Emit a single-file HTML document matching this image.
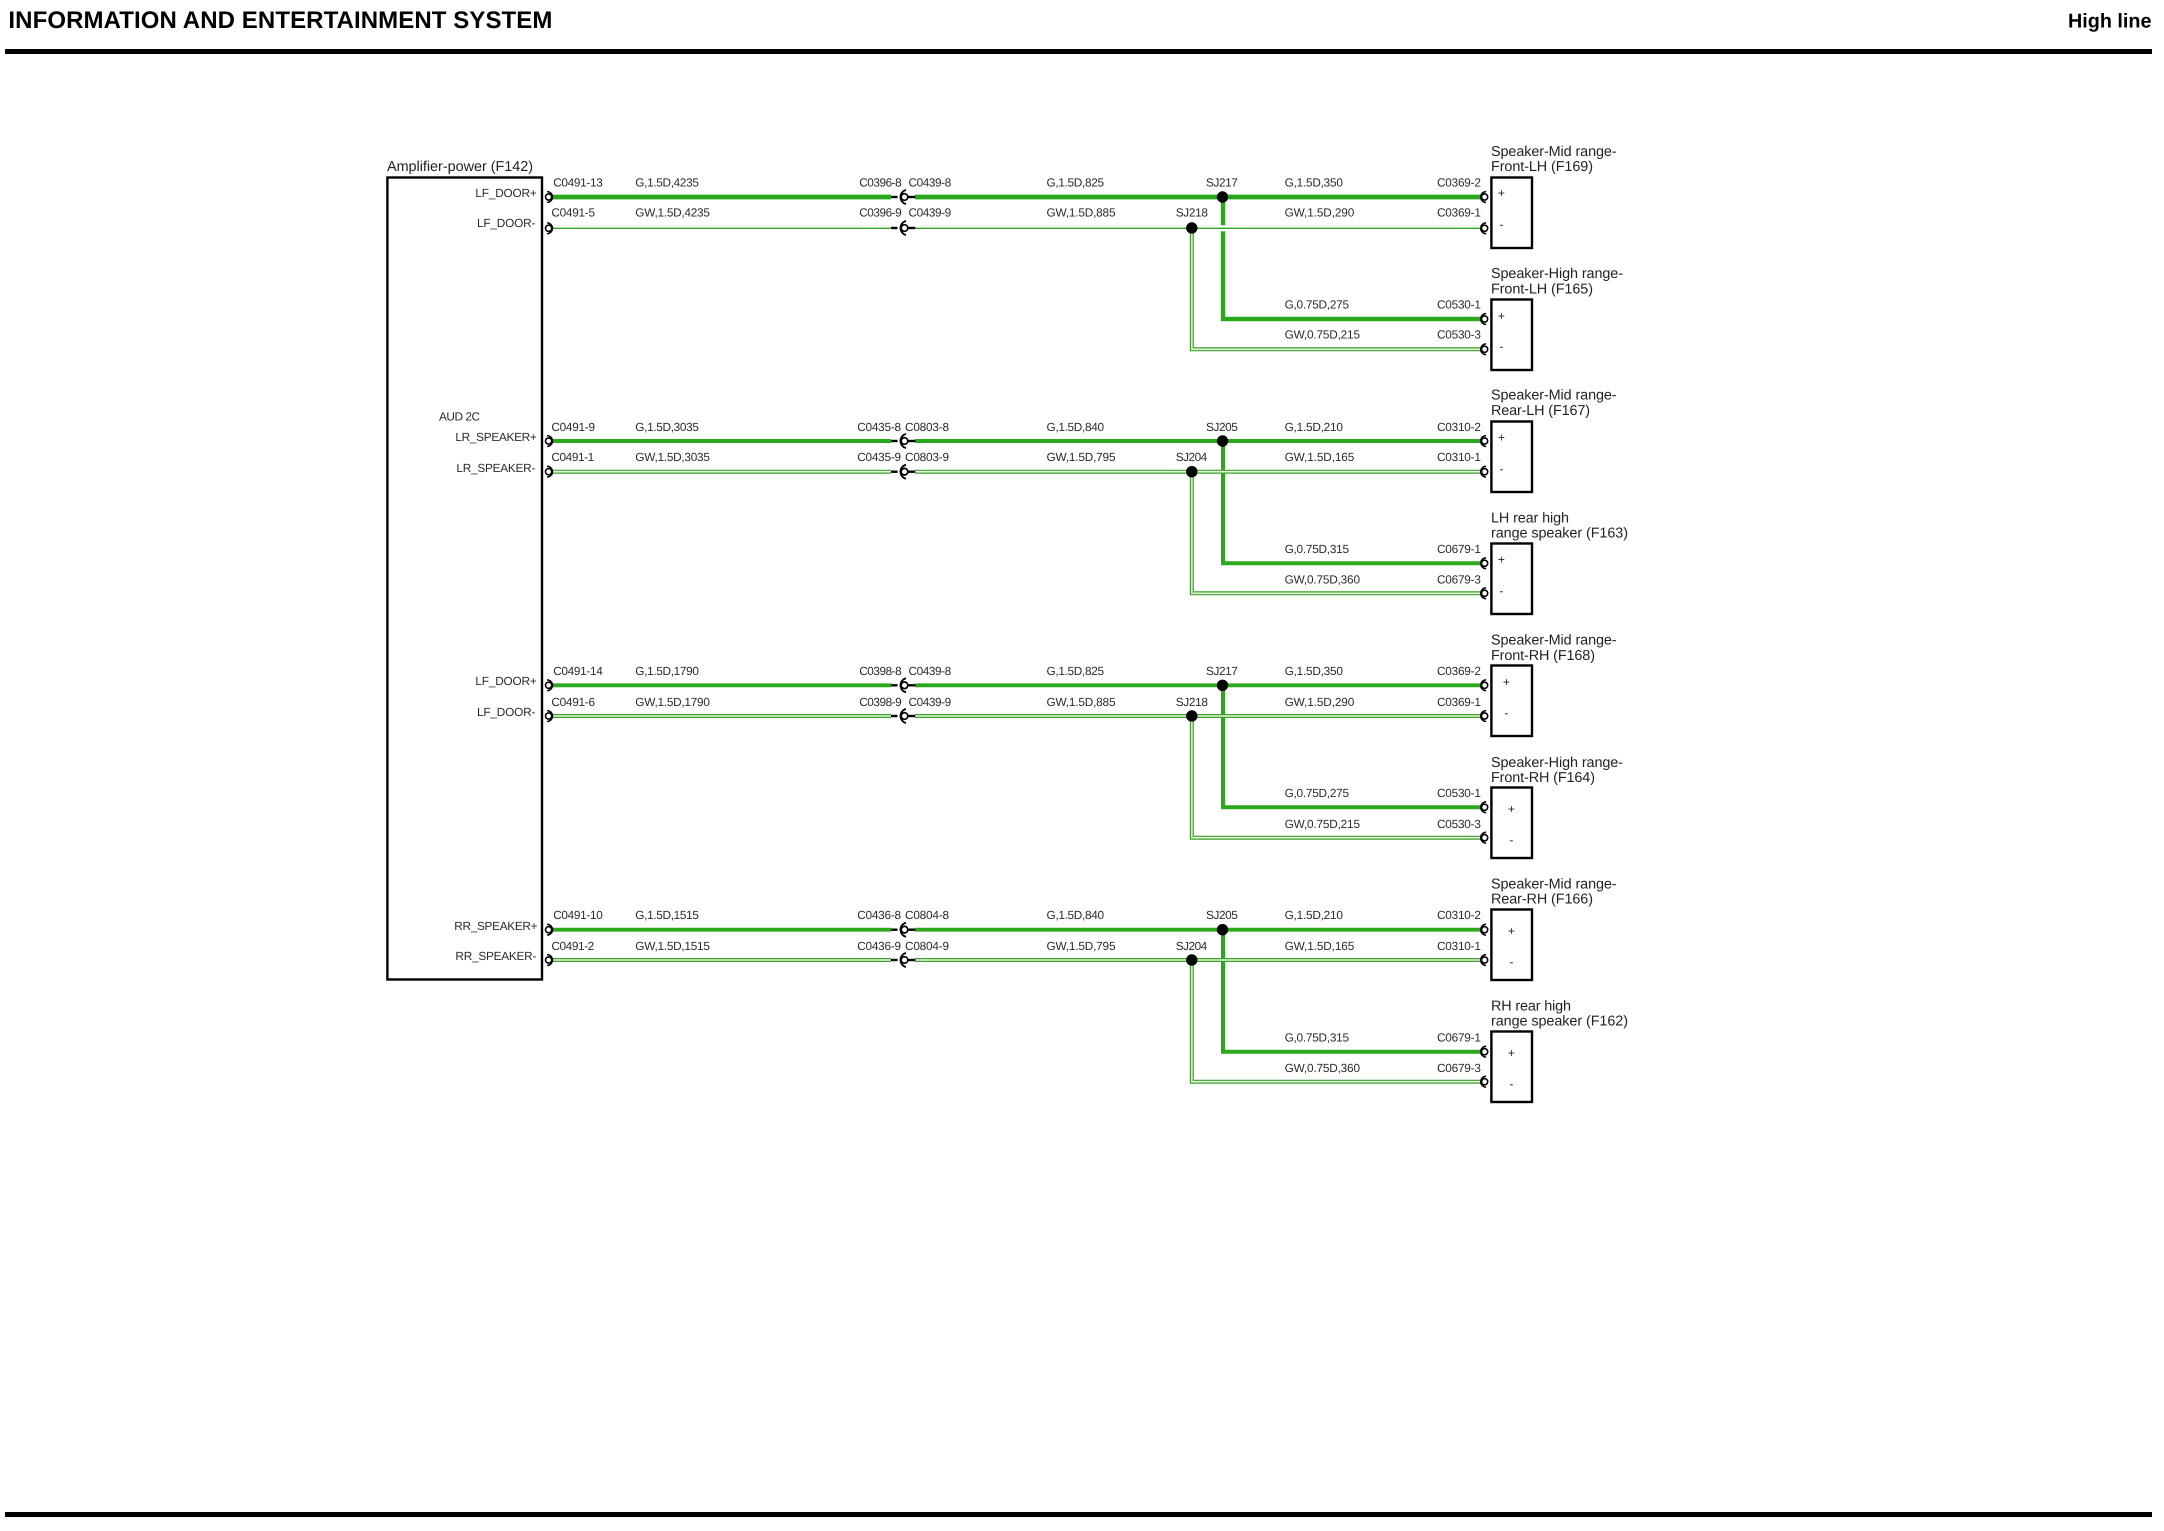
<!DOCTYPE html>
<html>
<head>
<meta charset="utf-8">
<title>Information and Entertainment System</title>
<style>
html,body{margin:0;padding:0;background:#fff;}
svg{display:block;}
text{font-family:"Liberation Sans",Arial,sans-serif;font-size:11.8px;fill:#2a2a2a;text-rendering:geometricPrecision;}
.h{font-weight:bold;fill:#000;font-size:24px;}
.h2{font-weight:bold;fill:#000;font-size:20px;}
.t{font-size:14.4px;fill:#222;}
.p{font-size:12px;fill:#222;}
.w{fill:none;stroke:#2ca81c;stroke-linejoin:miter;}
.do{fill:none;stroke:#3c9f2c;stroke-width:4;}
.di{fill:none;stroke:#e6f8da;stroke-width:1.6;}
.b{fill:#fff;stroke:#000;stroke-width:2.4;}
</style>
</head>
<body>
<svg xmlns="http://www.w3.org/2000/svg" width="2164" height="1531" viewBox="0 0 2164 1531">
<defs>
<g id="er"><path d="M1.5,-5.4 A5.4,5.4 0 0 0 1.5,5.4" fill="none" stroke="#000" stroke-width="1.5"/><circle r="3.1" fill="#fff" stroke="#000" stroke-width="1.6"/></g>
<g id="el"><path d="M-1.5,-5.4 A5.4,5.4 0 0 1 -1.5,5.4" fill="none" stroke="#000" stroke-width="1.5"/><circle r="3.1" fill="#fff" stroke="#000" stroke-width="1.6"/></g>
<g id="in"><line x1="-13.5" x2="-7" y1="0" y2="0" stroke="#000" stroke-width="2.4"/><line x1="3" x2="10.8" y1="0" y2="0" stroke="#000" stroke-width="2.4"/><path d="M1.5,-7 A7.2,7.2 0 0 0 1.5,7" fill="none" stroke="#000" stroke-width="1.8"/><circle r="3.3" fill="#fff" stroke="#000" stroke-width="1.7"/></g>
</defs>
<rect width="2164" height="1531" fill="#fff"/>

<text class="h" x="8.4" y="28" textLength="544" lengthAdjust="spacing">INFORMATION AND ENTERTAINMENT SYSTEM</text>
<text class="h2" x="2068" y="27.7" textLength="83.5" lengthAdjust="spacingAndGlyphs">High line</text>
<rect x="5" y="49" width="2147" height="5" fill="#000"/>
<rect x="5" y="1512" width="2147" height="5" fill="#000"/>

<!-- Amplifier -->
<text class="t" x="387" y="171" textLength="146">Amplifier-power (F142)</text>
<rect class="b" x="387.4" y="177.5" width="154.6" height="802"/>
<text x="475.4" y="197.2" textLength="61.4">LF_DOOR+</text>
<text x="477" y="227.2" textLength="58.4">LF_DOOR-</text>
<text x="439" y="420.7" textLength="41">AUD 2C</text>
<text x="455.4" y="441" textLength="81.4">LR_SPEAKER+</text>
<text x="456.4" y="472" textLength="79">LR_SPEAKER-</text>
<text x="475.4" y="685" textLength="61.4">LF_DOOR+</text>
<text x="477" y="716" textLength="58.4">LF_DOOR-</text>
<text x="454.3" y="930" textLength="83.2">RR_SPEAKER+</text>
<text x="455.4" y="960" textLength="81">RR_SPEAKER-</text>

<!-- Group 1 wires -->
<path class="w" stroke-width="4.4" d="M1223,197 V319 H1484"/>
<rect x="1219" y="225.3" width="8" height="6" fill="#fff"/>
<path class="w" stroke-width="4.8" d="M552,197 H891 M915,197 H1484"/>
<path class="w" stroke-width="1.4" d="M552,228.3 H891 M915,228.3 H1484"/>
<path class="do" d="M1191.8,228 V349.3 H1484"/><path class="di" d="M1191.8,228 V349.3 H1484"/>

<!-- Group 2 wires -->
<path class="w" stroke-width="4" d="M1223,441 V563.3 H1484"/>
<path class="w" stroke-width="4" d="M552,441 H891 M915,441 H1484"/>
<path class="do" d="M552,471.7 H891 M915,471.7 H1484"/><path class="di" d="M552,471.7 H891 M915,471.7 H1484"/>
<path class="do" d="M1191.8,471.7 V593.3 H1484"/><path class="di" d="M1191.8,471.7 V593.3 H1484"/>

<!-- Group 3 wires -->
<path class="w" stroke-width="4" d="M1223,685.3 V807.3 H1484"/>
<path class="w" stroke-width="3.8" d="M552,685.3 H891 M915,685.3 H1484"/>
<path class="do" d="M552,716 H891 M915,716 H1484"/><path class="di" d="M552,716 H891 M915,716 H1484"/>
<path class="do" d="M1191.8,716 V837.7 H1484"/><path class="di" d="M1191.8,716 V837.7 H1484"/>

<!-- Group 4 wires -->
<path class="w" stroke-width="4" d="M1223,929.7 V1051.7 H1484"/>
<path class="w" stroke-width="3.8" d="M552,929.7 H891 M915,929.7 H1484"/>
<path class="do" d="M552,960 H891 M915,960 H1484"/><path class="di" d="M552,960 H891 M915,960 H1484"/>
<path class="do" d="M1191.8,960 V1081.7 H1484"/><path class="di" d="M1191.8,960 V1081.7 H1484"/>

<!-- Junction dots -->
<g fill="#000">
<circle cx="1222.5" cy="197" r="5.7"/><circle cx="1191.8" cy="228" r="5.7"/>
<circle cx="1222.5" cy="441" r="5.7"/><circle cx="1191.8" cy="471.7" r="5.7"/>
<circle cx="1222.5" cy="685.3" r="5.7"/><circle cx="1191.8" cy="716" r="5.7"/>
<circle cx="1222.5" cy="929.7" r="5.7"/><circle cx="1191.8" cy="960" r="5.7"/>
</g>

<!-- Left connectors -->
<use href="#el" x="548.6" y="197"/><use href="#el" x="548.6" y="228.3"/>
<use href="#el" x="548.6" y="441"/><use href="#el" x="548.6" y="471.7"/>
<use href="#el" x="548.6" y="685.3"/><use href="#el" x="548.6" y="716"/>
<use href="#el" x="548.6" y="929.7"/><use href="#el" x="548.6" y="960"/>

<!-- Inline connectors -->
<use href="#in" x="904.5" y="197"/><use href="#in" x="904.5" y="228"/>
<use href="#in" x="904.5" y="441"/><use href="#in" x="904.5" y="471.7"/>
<use href="#in" x="904.5" y="685.3"/><use href="#in" x="904.5" y="716"/>
<use href="#in" x="904.5" y="929.7"/><use href="#in" x="904.5" y="960"/>

<!-- Right connectors -->
<use href="#er" x="1484.6" y="197"/><use href="#er" x="1484.6" y="228.3"/><use href="#er" x="1484.6" y="319"/><use href="#er" x="1484.6" y="349.3"/>
<use href="#er" x="1484.6" y="441"/><use href="#er" x="1484.6" y="471.7"/><use href="#er" x="1484.6" y="563.3"/><use href="#er" x="1484.6" y="593.3"/>
<use href="#er" x="1484.6" y="685.3"/><use href="#er" x="1484.6" y="716"/><use href="#er" x="1484.6" y="807.3"/><use href="#er" x="1484.6" y="837.7"/>
<use href="#er" x="1484.6" y="929.7"/><use href="#er" x="1484.6" y="960"/><use href="#er" x="1484.6" y="1051.7"/><use href="#er" x="1484.6" y="1081.7"/>

<!-- Speaker boxes -->
<rect class="b" x="1491.4" y="177.5" width="40.6" height="70.5"/>
<rect class="b" x="1491.4" y="299.5" width="40.6" height="70.5"/>
<rect class="b" x="1491.4" y="421.5" width="40.6" height="70.5"/>
<rect class="b" x="1491.4" y="543.5" width="40.6" height="70.5"/>
<rect class="b" x="1491.4" y="665.5" width="40.6" height="70.5"/>
<rect class="b" x="1491.4" y="787.5" width="40.6" height="70.5"/>
<rect class="b" x="1491.4" y="909.5" width="40.6" height="70.5"/>
<rect class="b" x="1491.4" y="1031.5" width="40.6" height="70.5"/>

<!-- Plus/minus -->
<g text-anchor="middle">
<text class="p" x="1501.4" y="197">+</text><text class="p" x="1501.4" y="228.5">-</text>
<text class="p" x="1501.4" y="320">+</text><text class="p" x="1501.4" y="350.5">-</text>
<text class="p" x="1501.4" y="441.5">+</text><text class="p" x="1501.4" y="473">-</text>
<text class="p" x="1501.4" y="563.5">+</text><text class="p" x="1501.4" y="595">-</text>
<text class="p" x="1506.4" y="686">+</text><text class="p" x="1506.4" y="717">-</text>
<text class="p" x="1511.4" y="813">+</text><text class="p" x="1511.4" y="844">-</text>
<text class="p" x="1511.4" y="935">+</text><text class="p" x="1511.4" y="966">-</text>
<text class="p" x="1511.4" y="1057">+</text><text class="p" x="1511.4" y="1088">-</text>
</g>

<!-- Speaker titles -->
<text class="t" x="1491" y="156" textLength="125.6">Speaker-Mid range-</text>
<text class="t" x="1491" y="171" textLength="102">Front-LH (F169)</text>
<text class="t" x="1491" y="278" textLength="132">Speaker-High range-</text>
<text class="t" x="1491" y="293.4" textLength="102">Front-LH (F165)</text>
<text class="t" x="1491" y="399.3" textLength="125.6">Speaker-Mid range-</text>
<text class="t" x="1491" y="415" textLength="99">Rear-LH (F167)</text>
<text class="t" x="1491" y="522.3" textLength="78">LH rear high</text>
<text class="t" x="1491" y="537.7" textLength="137">range speaker (F163)</text>
<text class="t" x="1491" y="644.7" textLength="125.6">Speaker-Mid range-</text>
<text class="t" x="1491" y="660" textLength="104">Front-RH (F168)</text>
<text class="t" x="1491" y="767" textLength="132">Speaker-High range-</text>
<text class="t" x="1491" y="782" textLength="104">Front-RH (F164)</text>
<text class="t" x="1491" y="888.3" textLength="125.6">Speaker-Mid range-</text>
<text class="t" x="1491" y="903.3" textLength="102">Rear-RH (F166)</text>
<text class="t" x="1491" y="1010.7" textLength="80">RH rear high</text>
<text class="t" x="1491" y="1025.7" textLength="137">range speaker (F162)</text>

<!-- Group 1 labels -->
<text x="553.2" y="186.6" textLength="49.6">C0491-13</text>
<text x="635.3" y="186.6" textLength="63.6">G,1.5D,4235</text>
<text x="859.2" y="186.6" textLength="42.5">C0396-8</text>
<text x="908.5" y="186.6" textLength="42.7">C0439-8</text>
<text x="1046.5" y="186.6" textLength="57.5">G,1.5D,825</text>
<text x="1206" y="186.6" textLength="31.8">SJ217</text>
<text x="1284.6" y="186.6" textLength="58.3">G,1.5D,350</text>
<text x="1437" y="186.6" textLength="43.9">C0369-2</text>
<text x="551.4" y="216.6" textLength="43.6">C0491-5</text>
<text x="635.3" y="216.6" textLength="74.6">GW,1.5D,4235</text>
<text x="859.2" y="216.6" textLength="42.5">C0396-9</text>
<text x="908.5" y="216.6" textLength="42.7">C0439-9</text>
<text x="1046.5" y="216.6" textLength="69">GW,1.5D,885</text>
<text x="1175.7" y="216.6" textLength="32.2">SJ218</text>
<text x="1284.6" y="216.6" textLength="69.7">GW,1.5D,290</text>
<text x="1437" y="216.6" textLength="43.9">C0369-1</text>
<text x="1284.6" y="308.6" textLength="64.4">G,0.75D,275</text>
<text x="1437" y="308.6" textLength="43.9">C0530-1</text>
<text x="1284.6" y="338.6" textLength="75.4">GW,0.75D,215</text>
<text x="1437" y="338.6" textLength="43.9">C0530-3</text>

<!-- Group 2 labels -->
<text x="551.4" y="431" textLength="43.6">C0491-9</text>
<text x="635.3" y="431" textLength="63.6">G,1.5D,3035</text>
<text x="857.2" y="431" textLength="43.9">C0435-8</text>
<text x="905" y="431" textLength="44">C0803-8</text>
<text x="1046.5" y="431" textLength="57.5">G,1.5D,840</text>
<text x="1206" y="431" textLength="31.8">SJ205</text>
<text x="1284.6" y="431" textLength="58.3">G,1.5D,210</text>
<text x="1437" y="431" textLength="43.9">C0310-2</text>
<text x="551.4" y="461" textLength="42.8">C0491-1</text>
<text x="635.3" y="461" textLength="74.6">GW,1.5D,3035</text>
<text x="857.2" y="461" textLength="43.9">C0435-9</text>
<text x="905" y="461" textLength="44">C0803-9</text>
<text x="1046.5" y="461" textLength="69">GW,1.5D,795</text>
<text x="1175.7" y="461" textLength="31.5">SJ204</text>
<text x="1284.6" y="461" textLength="69.7">GW,1.5D,165</text>
<text x="1437" y="461" textLength="43.9">C0310-1</text>
<text x="1284.6" y="553" textLength="64.4">G,0.75D,315</text>
<text x="1437" y="553" textLength="43.9">C0679-1</text>
<text x="1284.6" y="583.7" textLength="75.4">GW,0.75D,360</text>
<text x="1437" y="583.7" textLength="43.9">C0679-3</text>

<!-- Group 3 labels -->
<text x="553.2" y="675" textLength="49.6">C0491-14</text>
<text x="635.3" y="675" textLength="63.6">G,1.5D,1790</text>
<text x="859.2" y="675" textLength="42.5">C0398-8</text>
<text x="908.5" y="675" textLength="42.7">C0439-8</text>
<text x="1046.5" y="675" textLength="57.5">G,1.5D,825</text>
<text x="1206" y="675" textLength="31.8">SJ217</text>
<text x="1284.6" y="675" textLength="58.3">G,1.5D,350</text>
<text x="1437" y="675" textLength="43.9">C0369-2</text>
<text x="551.4" y="706" textLength="43.6">C0491-6</text>
<text x="635.3" y="706" textLength="74.6">GW,1.5D,1790</text>
<text x="859.2" y="706" textLength="42.5">C0398-9</text>
<text x="908.5" y="706" textLength="42.7">C0439-9</text>
<text x="1046.5" y="706" textLength="69">GW,1.5D,885</text>
<text x="1175.7" y="706" textLength="32.2">SJ218</text>
<text x="1284.6" y="706" textLength="69.7">GW,1.5D,290</text>
<text x="1437" y="706" textLength="43.9">C0369-1</text>
<text x="1284.6" y="797" textLength="64.4">G,0.75D,275</text>
<text x="1437" y="797" textLength="43.9">C0530-1</text>
<text x="1284.6" y="828" textLength="75.4">GW,0.75D,215</text>
<text x="1437" y="828" textLength="43.9">C0530-3</text>

<!-- Group 4 labels -->
<text x="553.2" y="919" textLength="49.6">C0491-10</text>
<text x="635.3" y="919" textLength="63.6">G,1.5D,1515</text>
<text x="857.2" y="919" textLength="43.9">C0436-8</text>
<text x="905" y="919" textLength="44">C0804-8</text>
<text x="1046.5" y="919" textLength="57.5">G,1.5D,840</text>
<text x="1206" y="919" textLength="31.8">SJ205</text>
<text x="1284.6" y="919" textLength="58.3">G,1.5D,210</text>
<text x="1437" y="919" textLength="43.9">C0310-2</text>
<text x="551.4" y="950" textLength="42.8">C0491-2</text>
<text x="635.3" y="950" textLength="74.6">GW,1.5D,1515</text>
<text x="857.2" y="950" textLength="43.9">C0436-9</text>
<text x="905" y="950" textLength="44">C0804-9</text>
<text x="1046.5" y="950" textLength="69">GW,1.5D,795</text>
<text x="1175.7" y="950" textLength="31.5">SJ204</text>
<text x="1284.6" y="950" textLength="69.7">GW,1.5D,165</text>
<text x="1437" y="950" textLength="43.9">C0310-1</text>
<text x="1284.6" y="1041.5" textLength="64.4">G,0.75D,315</text>
<text x="1437" y="1041.5" textLength="43.9">C0679-1</text>
<text x="1284.6" y="1072" textLength="75.4">GW,0.75D,360</text>
<text x="1437" y="1072" textLength="43.9">C0679-3</text>
</svg>
</body>
</html>
